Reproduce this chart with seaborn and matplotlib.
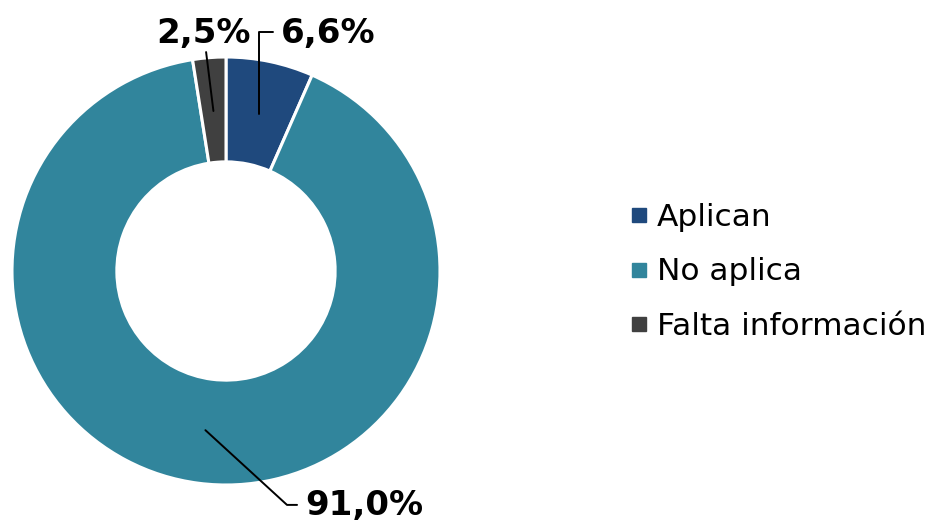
import numpy as np
import matplotlib
matplotlib.use("Agg")
import matplotlib.pyplot as plt
from matplotlib.lines import Line2D
import seaborn as sns

categories = ["Aplican", "No aplica", "Falta información"]
values = [6.6, 91.0, 2.5]
value_labels = ["6,6%", "91,0%", "2,5%"]
colors = ["#1F497D", "#31859C", "#404040"]

sns.set_theme(style="white")
plt.rcParams['font.family'] = ['DejaVu Sans']
plt.rcParams['text.color'] = 'black'

W, H = 935, 521
fig = plt.figure(figsize=(W / 100, H / 100), dpi=100)
cx, cy, R = 226, 271, 214
ax = fig.add_axes([(cx - R) / W, (H - cy - R) / H, 2 * R / W, 2 * R / H])

wedges, _ = ax.pie(values, colors=colors, startangle=90, counterclock=False,
                   radius=1.0,
                   wedgeprops=dict(width=0.49, edgecolor="white", linewidth=2.2))
ax.set_xlim(-1, 1)
ax.set_ylim(-1, 1)
ax.set_aspect("equal")
ax.axis("off")

def anchor(w, r=0.75):
    ang = np.deg2rad((w.theta1 + w.theta2) / 2)
    return r * np.cos(ang), r * np.sin(ang)

fs = 24.5
lw = 1.4
# 6,6%
ax0, ay0 = anchor(wedges[0])
ax.plot([ax0, ax0, ax0 + 0.065], [ay0, 1.117, 1.117], color="black", lw=lw, clip_on=False)
ax.text(ax0 + 0.10, 1.112, value_labels[0], fontsize=fs, fontweight="bold",
        ha="left", va="center", color="black")
# 2,5%
bx0, by0 = anchor(wedges[2])
ax.plot([bx0, -0.093], [by0, 1.023], color="black", lw=lw, clip_on=False)
ax.text(-0.103, 1.112, value_labels[2], fontsize=fs, fontweight="bold",
        ha="center", va="center", color="black")
# 91,0%
nx0, ny0 = anchor(wedges[1])
ax.plot([nx0, 0.285, 0.332], [ny0, -1.093, -1.093], color="black", lw=lw, clip_on=False)
ax.text(0.372, -1.098, value_labels[1], fontsize=fs, fontweight="bold",
        ha="left", va="center", color="black")

handles = [Line2D([0], [0], marker="s", linestyle="none", markersize=9.5,
                  markerfacecolor=c, markeredgecolor=c) for c in colors]
leg = fig.legend(handles, categories, loc="center left", bbox_to_anchor=(630 / W, (H - 272) / H),
                 frameon=False, fontsize=22.5, handlelength=0.55, handletextpad=0.3,
                 labelspacing=0.82, borderaxespad=0, borderpad=0)
for t in leg.get_texts():
    t.set_color("black")

fig.savefig("out.png", dpi=100)
